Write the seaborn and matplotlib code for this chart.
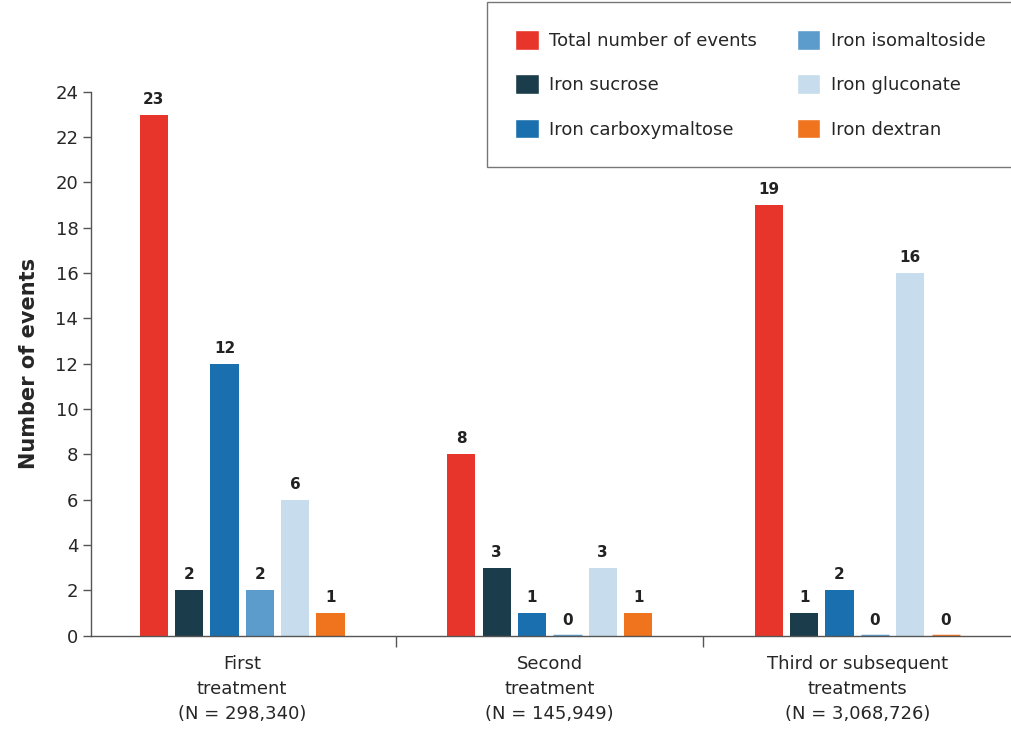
import numpy as np
import pandas as pd
import seaborn as sns
import matplotlib.pyplot as plt
from matplotlib.patches import Patch

groups = ["First\ntreatment\n(N = 298,340)",
          "Second\ntreatment\n(N = 145,949)",
          "Third or subsequent\ntreatments\n(N = 3,068,726)"]
series = ["Total number of events", "Iron sucrose", "Iron carboxymaltose",
          "Iron isomaltoside", "Iron gluconate", "Iron dextran"]
total = [23, 8, 19]
sucrose = [2, 3, 1]
carboxymaltose = [12, 1, 2]
isomaltoside = [2, 0, 0]
gluconate = [6, 3, 16]
dextran = [1, 1, 0]
colors = ["#e8352c", "#1b3c4a", "#1a70ae", "#5b9ccd", "#c7dcec", "#f0741e"]

vals = [total, sucrose, carboxymaltose, isomaltoside, gluconate, dextran]
df = pd.DataFrame([(g, s, v[i]) for s, v in zip(series, vals) for i, g in enumerate(groups)],
                  columns=["group", "series", "events"])

sns.set_style("white")
plt.rcParams['font.family'] = ['DejaVu Sans']
fig = plt.figure(figsize=(10.11, 7.29), dpi=100)
ax = fig.add_axes([0.0905, 0.128, 0.9095, 0.746])

sns.barplot(data=df, x="group", y="events", hue="series", hue_order=series,
            palette=colors, saturation=1, width=0.69, gap=0.2, ax=ax,
            legend=False, linewidth=0)

# make zero bars visible as thin slivers and label each bar
for cont, c in zip(ax.containers, colors):
    for p in cont:
        h = p.get_height()
        if h == 0:
            p.set_edgecolor(c)
            p.set_linewidth(2.5)
        ax.text(p.get_x() + p.get_width() / 2, h + 0.35, f"{int(h)}",
                ha="center", va="bottom", fontsize=11, fontweight="bold", color="#222222")

ax.set_ylim(0, 24)
ax.set_yticks(np.arange(0, 25, 2))
ax.set_xlim(-0.49, 2.5)
ax.set_xlabel("")
ax.set_ylabel("Number of events", fontsize=15, fontweight="bold", labelpad=12)
ax.tick_params(axis="y", labelsize=13, length=6, width=1, color="#555555", left=True)
ax.tick_params(axis="x", labelsize=13, length=0, pad=14)
ax.set_xticks([0.5, 1.5], minor=True)
ax.tick_params(axis="x", which="minor", length=8, width=1, color="#555555", bottom=True)
for lab in ax.get_xticklabels():
    lab.set_linespacing(1.5)
for s in ["top", "right"]:
    ax.spines[s].set_visible(False)
for s in ["left", "bottom"]:
    ax.spines[s].set_color("#555555")
    ax.spines[s].set_linewidth(1)

handles = [Patch(facecolor=c, label=s) for s, c in zip(series, colors)]
leg = fig.legend(handles=handles, ncol=2, loc="upper right", bbox_to_anchor=(1.003, 0.997),
                 fontsize=13, frameon=True, fancybox=False, handlelength=1.3,
                 handleheight=1.3, labelspacing=1.35, columnspacing=2.2,
                 borderpad=1.55, handletextpad=0.6, borderaxespad=0)
leg.get_frame().set_edgecolor("#555555")
leg.get_frame().set_linewidth(1)

fig.savefig("out.png", dpi=100)
